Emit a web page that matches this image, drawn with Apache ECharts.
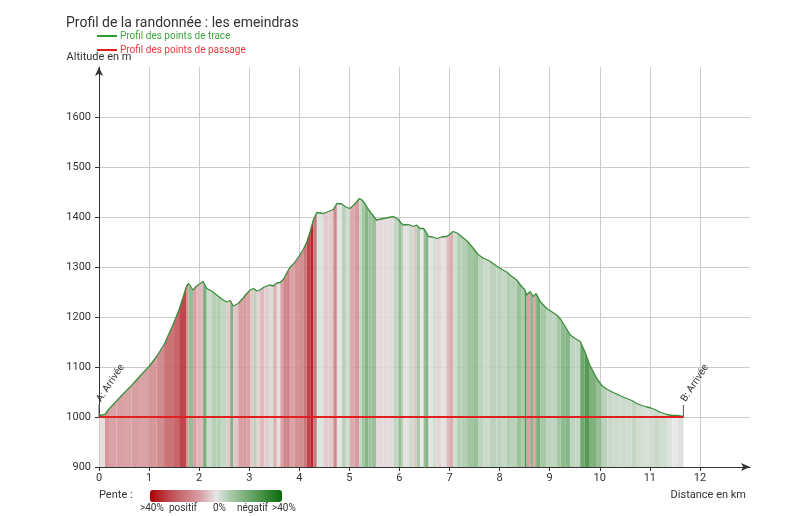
<!DOCTYPE html>
<html>
<head>
<meta charset="utf-8">
<script src="https://cdn.jsdelivr.net/npm/echarts@6/dist/echarts.min.js"></script>
<style>html,body{margin:0;padding:0;background:#fff}#c{width:800px;height:516px}</style>
</head>
<body>
<div id="c"></div>
<script>
// Distance (km) and altitude (m) of the track points
var distKm = [0.00,0.12,0.20,0.35,0.50,0.65,0.82,1.00,1.15,1.30,1.48,1.60,1.75,1.79,1.88,1.95,2.08,2.15,2.25,2.35,2.45,2.55,2.62,2.68,2.78,2.88,2.95,3.02,3.08,3.15,3.21,3.30,3.41,3.48,3.55,3.62,3.68,3.75,3.81,3.90,4.01,4.08,4.15,4.22,4.28,4.35,4.48,4.58,4.68,4.75,4.85,4.93,5.01,5.10,5.20,5.25,5.31,5.38,5.44,5.54,5.68,5.78,5.88,5.98,6.03,6.08,6.18,6.28,6.34,6.41,6.48,6.53,6.58,6.66,6.74,6.84,6.94,7.00,7.07,7.15,7.24,7.35,7.47,7.57,7.67,7.80,7.94,8.05,8.14,8.21,8.34,8.44,8.50,8.54,8.61,8.67,8.73,8.81,8.94,9.05,9.14,9.22,9.31,9.41,9.51,9.61,9.70,9.80,9.94,10.04,10.15,10.27,10.40,10.54,10.64,10.74,10.84,10.94,11.02,11.10,11.20,11.34,11.45,11.55,11.67];
var altM = [1003,1005,1016,1032,1048,1063,1082,1101,1121,1145,1185,1215,1262,1267,1254,1262,1271,1257,1252,1244,1236,1230,1233,1222,1227,1238,1247,1254,1257,1252,1254,1260,1264,1262,1268,1269,1275,1288,1299,1308,1324,1335,1350,1372,1394,1409,1407,1411,1415,1427,1426,1420,1417,1425,1437,1434,1427,1415,1407,1394,1397,1399,1401,1395,1388,1384,1385,1381,1384,1377,1377,1370,1361,1360,1357,1360,1361,1365,1371,1368,1361,1352,1338,1325,1318,1312,1302,1295,1290,1284,1274,1261,1255,1244,1251,1241,1247,1231,1217,1210,1204,1195,1181,1164,1157,1151,1131,1104,1077,1063,1055,1049,1043,1037,1033,1027,1023,1020,1018,1015,1010,1005,1003,1003,1001];

// Passage points
var passDist = [0, 11.67];
var passAlt = [1000, 1000];
var passNames = ['A: Arrivée', 'B: Arrivée'];

// Axis ticks
var xTicks = [0,1,2,3,4,5,6,7,8,9,10,11,12];
var yTicks = [900,1000,1100,1200,1300,1400,1500,1600];

// Slope legend labels
var slopeLegendLabels = ['>40%', 'positif', '0%', 'négatif', '>40%'];
var slopeLegendX = [140, 169, 213, 237, 272];

// Slope colour ramp, from -40 % (descent) to +40 % (climb)
var slopeColors = ['#0b6b0b', '#3a8a3a', '#6fa86f', '#a3c5a3', '#e6e6e6', '#d79ca0', '#c97378', '#bd4047', '#b00000'];

var yMin = 900, yMax = 1700, xMin = 0, xMax = 13;

// Segments with slope (%)
var segs = [];
for (var i = 0; i < distKm.length - 1; i++) {
  var s = (altM[i+1] - altM[i]) / ((distKm[i+1] - distKm[i]) * 1000) * 100;
  s = Math.max(-40, Math.min(40, s));
  segs.push([distKm[i], altM[i], distKm[i+1], altM[i+1], s]);
}
var trace = distKm.map(function (d, i) { return [d, altM[i]]; });
var pass = passDist.map(function (d, i) {
  return { name: passNames[i], value: [d, passAlt[i]] };
});

var chart = echarts.init(document.getElementById('c'));
var font = 'Roboto';
var gfx = [{ type: 'text', left: 99, top: 490, style: { text: 'Pente :', font: '11px Roboto', fill: '#333' } }];
slopeLegendLabels.forEach(function (t, i) {
  gfx.push({ type: 'text', left: slopeLegendX[i], top: 503, style: { text: t, font: '10px Roboto', fill: '#333' } });
});

chart.setOption({
  animation: false,
  textStyle: { fontFamily: font },
  title: {
    text: 'Profil de la randonnée : les emeindras',
    left: 61, top: 11,
    textStyle: { fontSize: 14, fontWeight: 'normal', color: '#333', fontFamily: font }
  },
  legend: {
    orient: 'vertical', left: 92, top: 26, itemGap: 4,
    icon: 'rect', itemWidth: 20, itemHeight: 2, selectedMode: false,
    textStyle: { fontSize: 10, fontFamily: font, padding: [0, 0, 0, -2] },
    data: [
      { name: 'Profil des points de trace', textStyle: { color: '#3da33d' }, itemStyle: { color: '#2f9a2f' } },
      { name: 'Profil des points de passage', textStyle: { color: '#e8383d' }, itemStyle: { color: '#e02020' } }
    ]
  },
  grid: { left: 99, right: 50, top: 67, bottom: 49, containLabel: false },
  xAxis: {
    type: 'value', min: xMin, max: xMax, interval: 1,
    name: 'Distance en km', nameLocation: 'end', nameGap: -4,
    nameTextStyle: { fontSize: 11, color: '#333', align: 'right', verticalAlign: 'top', padding: [23, 0, 0, 0] },
    axisLine: { show: true, lineStyle: { color: '#333', width: 1 }, symbol: ['none', 'arrow'], symbolSize: [6, 9] },
    axisTick: { show: true, length: 4, lineStyle: { color: '#333' } },
    axisLabel: { fontSize: 11, color: '#333', margin: 6, showMaxLabel: false,
      formatter: function (v) { return xTicks.indexOf(v) >= 0 ? String(v) : ''; } },
    splitLine: { show: true, showMinLine: false, showMaxLine: false, lineStyle: { color: '#cccccc', width: 1 } }
  },
  yAxis: {
    type: 'value', min: yMin, max: yMax, interval: 100,
    name: 'Altitude en m', nameLocation: 'end', nameGap: 10,
    nameTextStyle: { fontSize: 11, color: '#333', align: 'center', verticalAlign: 'middle' },
    axisLine: { show: true, lineStyle: { color: '#333', width: 1 }, symbol: ['none', 'arrow'], symbolSize: [6, 9] },
    axisTick: { show: true, length: 4, lineStyle: { color: '#333' } },
    axisLabel: { fontSize: 11, color: '#333', margin: 8, showMaxLabel: false,
      formatter: function (v) { return yTicks.indexOf(v) >= 0 ? String(v) : ''; } },
    splitLine: { show: true, showMinLine: false, showMaxLine: false, lineStyle: { color: '#cccccc', width: 1 } }
  },
  visualMap: {
    type: 'continuous', seriesIndex: 0, dimension: 4,
    min: -40, max: 40, inverse: true,
    orient: 'horizontal', left: 135, top: 475,
    itemWidth: 12, itemHeight: 132,
    calculable: false, text: null, hoverLink: false,
    inRange: { color: slopeColors }
  },
  graphic: gfx,
  series: [
    {
      type: 'custom', name: 'pente', silent: true,
      encode: { x: [0, 2], y: [1, 3] },
      renderItem: function (params, api) {
        var p1 = api.coord([api.value(0), api.value(1)]);
        var p2 = api.coord([api.value(2), api.value(3)]);
        var b1 = api.coord([api.value(0), yMin]);
        var b2 = api.coord([api.value(2), yMin]);
        return { type: 'polygon', shape: { points: [p1, p2, b2, b1] },
          style: { fill: api.visual('color'), opacity: 0.92 } };
      },
      data: segs, z: 1
    },
    {
      type: 'line', name: 'Profil des points de trace', data: trace,
      showSymbol: false, color: '#3b8e3b',
      lineStyle: { color: '#3b8e3b', width: 1.3 }, z: 3, silent: true
    },
    {
      type: 'line', name: 'Profil des points de passage', data: pass,
      color: '#e02020', lineStyle: { color: '#e02020', width: 2 },
      symbol: 'rect', symbolSize: [1, 12], symbolOffset: [0, '-50%'],
      itemStyle: { color: '#555' }, z: 4, silent: true,
      label: {
        show: true, formatter: '{b}', position: 'top', distance: 4,
        rotate: 57, align: 'left', verticalAlign: 'middle',
        fontSize: 10, color: '#333', fontFamily: font
      }
    }
  ]
});
</script>
</body>
</html>
